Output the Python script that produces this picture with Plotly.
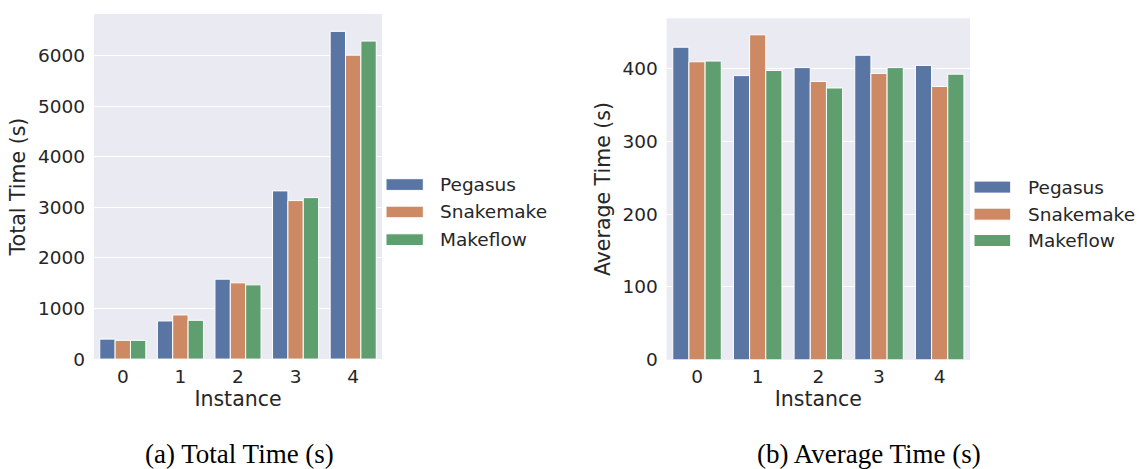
import plotly.graph_objects as go

instances = ["0", "1", "2", "3", "4"]
systems = ["Pegasus", "Snakemake", "Makeflow"]
colors = ["#5975a4", "#cc8963", "#5f9e6e"]

total_pegasus = [395, 754, 1581, 3327, 6482]
total_snakemake = [371, 873, 1508, 3135, 6012]
total_makeflow = [371, 767, 1468, 3194, 6290]

avg_pegasus = [429, 390, 401, 418, 404]
avg_snakemake = [409, 446, 382, 393, 375]
avg_makeflow = [410, 397, 373, 401, 392]

total_series = [total_pegasus, total_snakemake, total_makeflow]
avg_series = [avg_pegasus, avg_snakemake, avg_makeflow]

W, H = 1143, 469
H_EFF = 458  # observed rendered height
def px(x):
    return x / W
def py(y):
    return 1 - y / H_EFF

fig = go.Figure()
for name, col, vals in zip(systems, colors, total_series):
    fig.add_trace(go.Bar(x=instances, y=vals, name=name, marker=dict(color=col, line=dict(color="white", width=1)),
                         xaxis="x", yaxis="y", showlegend=False, offsetgroup=name))
for name, col, vals in zip(systems, colors, avg_series):
    fig.add_trace(go.Bar(x=instances, y=vals, name=name, marker=dict(color=col, line=dict(color="white", width=1)),
                         xaxis="x2", yaxis="y2", showlegend=False, offsetgroup=name))

tickfont = dict(family="DejaVu Sans", size=18.5, color="#262626")
titlefont = dict(family="DejaVu Sans", size=20.5, color="#262626")

xaxis_common = dict(showline=False, zeroline=False, tickfont=tickfont, ticks="", ticklabelstandoff=4)
yaxis_common = dict(showline=False, zeroline=False, tickfont=tickfont, ticks="", ticklabelstandoff=8)

fig.update_layout(
    width=W, height=H,
    margin=dict(l=0, r=0, t=0, b=0),
    paper_bgcolor="white",
    plot_bgcolor="#EAEAF2",
    barmode="group", bargap=0.2, bargroupgap=0,
    xaxis=dict(domain=[px(94), px(382)], anchor="y", type="category", showgrid=False,
               title=dict(text="Instance", font=titlefont, standoff=4), **xaxis_common),
    yaxis=dict(domain=[py(358.3), py(14)], anchor="x", range=[0, 6825], dtick=1000,
               showgrid=True, gridcolor="white", gridwidth=1.2,
               title=dict(text="Total Time (s)", font=titlefont, standoff=6), **yaxis_common),
    xaxis2=dict(domain=[px(666.7), px(970)], anchor="y2", type="category", showgrid=False,
                title=dict(text="Instance", font=titlefont, standoff=4), **xaxis_common),
    yaxis2=dict(domain=[py(359), py(18.3)], anchor="x2", range=[0, 468.6], dtick=100,
                showgrid=True, gridcolor="white", gridwidth=1.2,
                title=dict(text="Average Time (s)", font=titlefont, standoff=6), **yaxis_common),
)

# Custom legends (seaborn-style wide swatches)
shapes = []
annotations = []
legend_specs = [
    (386, 423.3, 439.3, [(178.3, 190), (205.7, 217.3), (233.3, 245)]),
    (974, 1010.7, 1026.7, [(180.7, 192.7), (207.7, 219.7), (234, 246)]),
]
for x0, x1, tx, rows in legend_specs:
    for (y0, y1), name, col in zip(rows, systems, colors):
        shapes.append(dict(type="rect", xref="paper", yref="paper", x0=px(x0), x1=px(x1),
                           y0=py(y1), y1=py(y0), fillcolor=col, line=dict(color="white", width=1)))
        annotations.append(dict(text=name, xref="paper", yref="paper", x=px(tx - 1), y=py((y0 + y1) / 2),
                                xanchor="left", yanchor="middle", showarrow=False,
                                font=dict(family="DejaVu Sans", size=18.5, color="#262626")))

captions = [("(a) Total Time (s)", 239.5), ("(b) Average Time (s)", 869)]
for text, cx in captions:
    annotations.append(dict(text=text, xref="paper", yref="paper", x=px(cx), y=py(453.5),
                            xanchor="center", yanchor="middle", showarrow=False,
                            font=dict(family="Liberation Serif", size=27, color="black")))

fig.update_layout(shapes=shapes, annotations=annotations)
fig.write_html("out.html")
